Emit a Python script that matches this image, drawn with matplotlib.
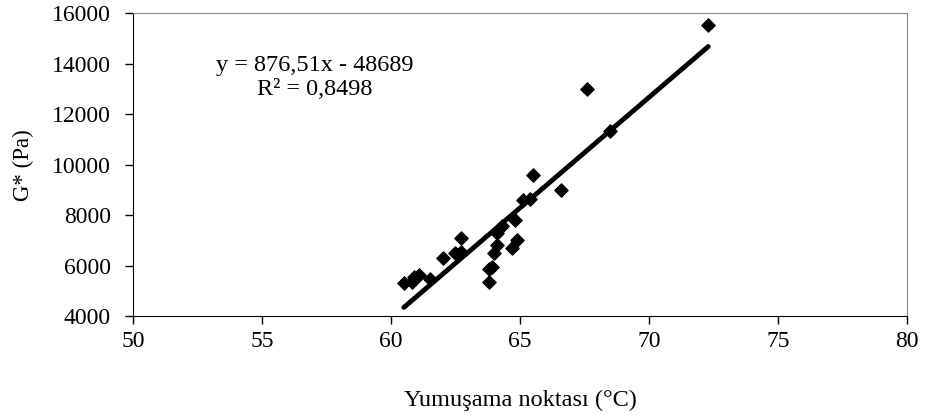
import matplotlib.pyplot as plt
import numpy as np

plt.rcParams['font.family'] = ['Liberation Serif', 'DejaVu Serif']

# Yumuşama noktası (°C) vs G* (Pa)
soft_point = [60.5, 60.8, 60.9, 61.1, 61.5, 62.0, 62.5, 62.7, 62.7,
              63.8, 63.8, 63.9, 64.0, 64.1, 64.1, 64.3, 64.7, 64.9,
              64.8, 65.1, 65.4, 65.5, 66.6, 67.6, 68.5, 72.3]
g_star = [5300, 5350, 5550, 5620, 5480, 6280, 6500, 7100, 6550,
          5850, 5350, 5950, 6500, 6800, 7300, 7550, 6700, 7000,
          7800, 8600, 8650, 9600, 9000, 13000, 11350, 15550]

slope = 876.51
intercept = -48689
r2 = 0.8498

fig = plt.figure(figsize=(9.28, 4.15), dpi=100)
ax = fig.add_axes([0.1433, 0.2386, 0.834, 0.7294])

ax.scatter(soft_point, g_star, marker='D', s=45, color='black', zorder=3)

xf = np.array([min(soft_point), max(soft_point)])
ax.plot(xf, slope * xf + intercept, color='black', lw=3.5, solid_capstyle='round')

ax.set_xlim(50, 80)
ax.set_ylim(4000, 16000)
ax.set_xticks(range(50, 81, 5))
ax.set_yticks(range(4000, 16001, 2000))
ax.tick_params(labelsize=17, length=6, width=1, direction='out')
ax.tick_params(axis='x', pad=5)
ax.tick_params(axis='y', pad=10)

for side in ['top', 'right']:
    ax.spines[side].set_color('#888888')
for side in ['left', 'bottom']:
    ax.spines[side].set_color('black')

ax.set_xlabel('Yumuşama noktası (°C)', fontsize=17.5, labelpad=27)
ax.set_ylabel('G* (Pa)', fontsize=16.5, labelpad=13)

ax.text(0.107, 0.829, 'y = 876,51x - 48689', transform=ax.transAxes,
        fontsize=17.5, ha='left', va='center')
ax.text(0.160, 0.747, 'R² = 0,8498', transform=ax.transAxes,
        fontsize=17.5, ha='left', va='center')

fig.savefig('out.png', dpi=100)
